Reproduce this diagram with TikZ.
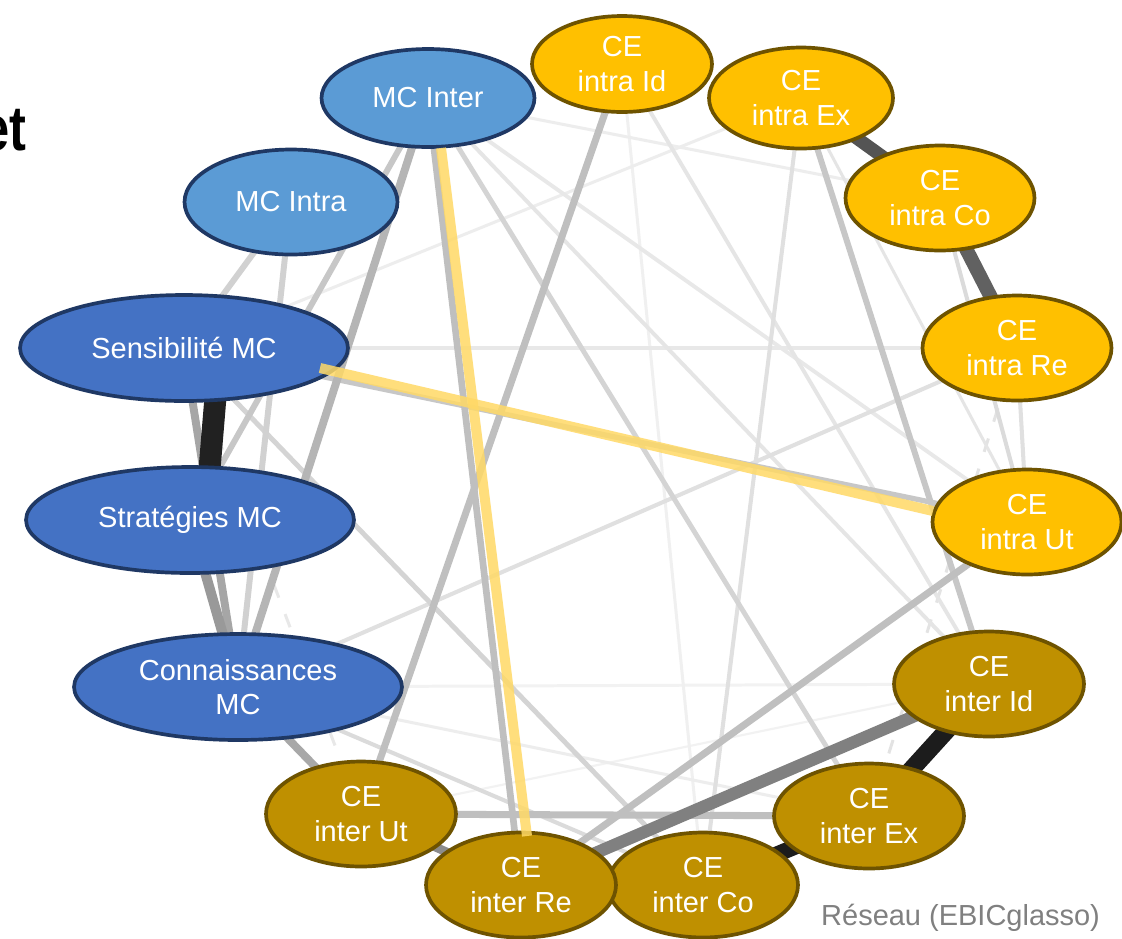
\documentclass[tikz,border=0pt]{standalone}
\usepackage{fontspec}
\setmainfont{Liberation Sans}
\usetikzlibrary{shapes.geometric}
\pgfdeclarelayer{background}
\pgfsetlayers{background,main}
\definecolor{mclight}{HTML}{5B9BD5}
\definecolor{mcdark}{HTML}{4472C4}
\definecolor{mcline}{HTML}{1F3864}
\definecolor{ceintra}{HTML}{FFC000}
\definecolor{ceinter}{HTML}{BF9000}
\definecolor{celine}{HTML}{6E5300}
\definecolor{hilite}{HTML}{FFD966}
\tikzset{
  var/.style={ellipse, line width=2.1pt, text=white, inner sep=0pt, align=center,
    font=\fontsize{16.5}{19.5}\selectfont},
  mcl/.style={var, draw=mcline, fill=mclight, minimum width=4.26cm, minimum height=2.1cm},
  mcd/.style={var, draw=mcline, fill=mcdark, minimum width=6.56cm, minimum height=2.12cm},
  cea/.style={var, draw=celine, fill=ceintra, minimum width=3.78cm, minimum height=2.1cm},
  cee/.style={var, draw=celine, fill=ceinter, minimum width=3.8cm, minimum height=2.1cm},
  hl/.style={draw=hilite, line width=5.7pt, opacity=0.85},
}
\begin{document}
\begin{tikzpicture}[x=0.02cm, y=-0.02cm]
\useasboundingbox (0,0) rectangle (1122,938);
% metacognition
\node[mcl, minimum height=1.96cm] (mcinter) at (428,98) {MC Inter};
\node[mcl] (mcintra) at (291,202) {MC Intra};
\node[mcd] (sens) at (184,348) {Sensibilité MC};
\node[mcd] (strat) at (190,520) {Stratégies MC};
\node[mcd] (conn) at (238,687) {Connaissances\\MC};
% croyances, intra
\node[cea, minimum width=3.6cm, minimum height=1.92cm] (aid) at (622,64) {CE\\intra Id};
\node[cea, minimum width=3.68cm, minimum height=2.02cm] (aex) at (801,98) {CE\\intra Ex};
\node[cea] (aco) at (940,198) {CE\\intra Co};
\node[cea] (are) at (1017,348) {CE\\intra Re};
\node[cea] (aut) at (1027,522) {CE\\intra Ut};
% croyances, inter
\node[cee] (eid) at (989,684) {CE\\inter Id};
\node[cee] (eex) at (869,816) {CE\\inter Ex};
\node[cee] (eco) at (703,885) {CE\\inter Co};
\node[cee] (ere) at (521,885) {CE\\inter Re};
\node[cee] (eut) at (361,814) {CE\\inter Ut};
\begin{pgfonlayer}{background}
\fill[white] (0,0) rectangle (1122,938);
\draw[line width=1.7pt, black!9, dash pattern=on 8pt off 10pt] (sens.center) -- (eut.center);
\draw[line width=1.7pt, black!11, dash pattern=on 8pt off 10pt] (are.center) -- (eex.center);
\foreach \a/\b/\w/\g in {eut/eid/1.2/5, conn/eid/1.7/5, aid/eco/1.7/6, mcinter/aco/1.7/7,
  conn/eex/1.7/7, sens/aex/1.7/7, mcinter/aut/2.2/9, aex/aut/1.7/10, sens/are/2.2/9,
  aid/eid/2.2/10, mcinter/eid/2.2/10, aex/eco/2.3/12, conn/are/2.3/12, are/aut/2.3/12,
  aco/aut/2.3/14, conn/eco/2.3/14, sens/eco/2.8/17, mcinter/eex/2.8/17,
  mcintra/sens/3.4/18, mcintra/conn/3.4/18, mcinter/strat/3.4/22, sens/aut/3/22,
  aex/eid/3.4/22, mcinter/ere/3.8/25, aid/eut/4/25, eut/eex/4/25, aut/ere/4/25,
  mcinter/conn/4.5/29, conn/eut/4.5/34, sens/conn/4.5/35, strat/conn/5.7/40,
  eut/ere/5/45, eid/ere/7/50, aco/are/8/62, aex/aco/7.4/67, eex/eco/9/89,
  eid/eex/10/89}
  \draw[line width=\w pt, black!\g] (\a.center) -- (\b.center);
\draw[line width=12.5pt, black!87, shorten <=-15pt, shorten >=-15pt] (sens.-60) -- (strat.70);
\end{pgfonlayer}
% highlighted edges
\coordinate (hlA) at (320,368);
\coordinate (hlB) at (933,511);
\coordinate (hlC) at (441,148);
\coordinate (hlD) at (527,836);
\draw[hl] (hlA) -- (hlB);
\draw[hl] (hlC) -- (hlD);
\node[anchor=base east, font=\fontsize{36}{40}\selectfont\bfseries] (titre) at (33,150) {\scalebox{0.8}[1]{et}};
\node[anchor=base west, text=black!50, font=\fontsize{16.5}{19.5}\selectfont] (legende) at (815,925) {Réseau (EBICglasso)};
\end{tikzpicture}
\end{document}
